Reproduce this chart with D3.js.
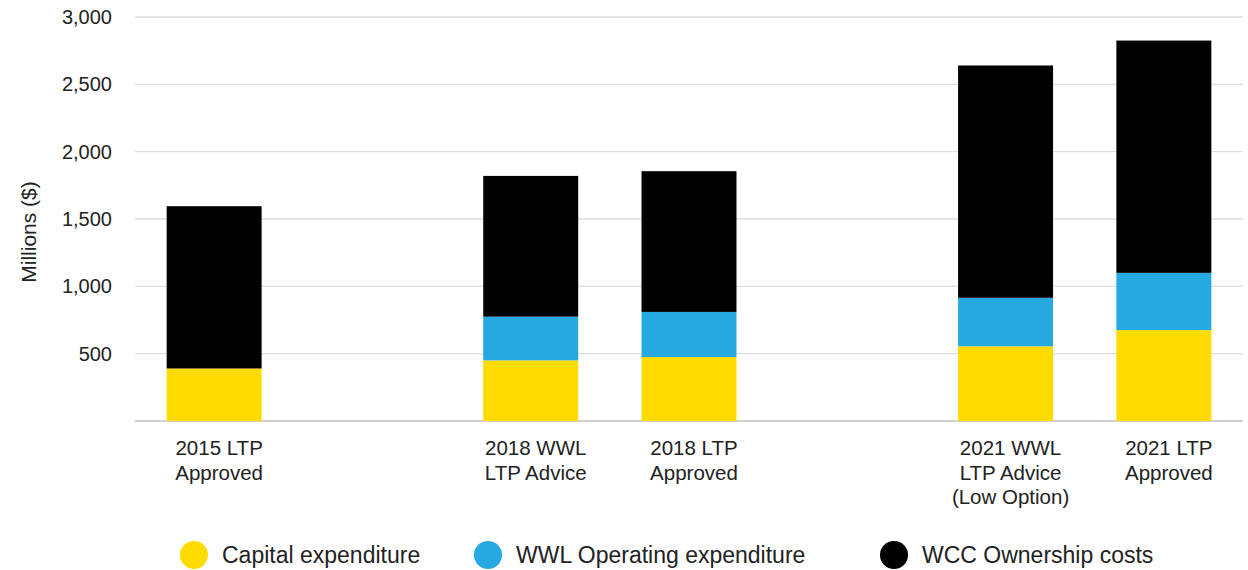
<!DOCTYPE html>
<html>
<head>
<meta charset="utf-8">
<script src="https://cdn.jsdelivr.net/npm/d3@7"></script>
<style>
  body { margin: 0; background: #fff; }
  svg { display: block; font-family: "Liberation Sans", Arial, sans-serif; }
</style>
</head>
<body>
<svg id="chart" width="1248" height="570"></svg>
<script>
// ---- data ----
const categories = ["2015 LTP Approved", "2018 WWL LTP Advice", "2018 LTP Approved", "2021 WWL LTP Advice (Low Option)", "2021 LTP Approved"];
const categoryLines = [["2015 LTP", "Approved"], ["2018 WWL", "LTP Advice"], ["2018 LTP", "Approved"], ["2021 WWL", "LTP Advice", "(Low Option)"], ["2021 LTP", "Approved"]];
const groupOf = [0, 1, 1, 2, 2];
const seriesNames = ["Capital expenditure", "WWL Operating expenditure", "WCC Ownership costs"];
const capex = [390, 450, 475, 555, 675];
const wwlOpex = [0, 325, 335, 360, 425];
const wccOwnership = [1205, 1045, 1045, 1725, 1725];
const yTicks = [500, 1000, 1500, 2000, 2500, 3000];
const colors = ["#FFDB00", "#25A9E0", "#000000"];

(function () {
// ---- layout ----
const svg = d3.select("#chart");
const mLeft = 135, mRight = 1243, mTop = 17, mBottom = 421;

// insert blank slots between groups
const slots = [];
categories.forEach((c, i) => {
  if (i > 0 && groupOf[i] !== groupOf[i - 1]) slots.push("__gap" + i);
  slots.push(c);
});

const x = d3.scaleBand().domain(slots).range([mLeft, mRight]).paddingInner(0.4).paddingOuter(0.2);
const y = d3.scaleLinear().domain([0, 3000]).range([mBottom, mTop]);

// gridlines
svg.append("g").selectAll("line").data([0].concat(yTicks)).join("line")
  .attr("x1", mLeft).attr("x2", mRight)
  .attr("y1", d => y(d)).attr("y2", d => y(d))
  .attr("stroke", d => d === 0 ? "#d0d0d0" : "#dedede").attr("stroke-width", d => d === 0 ? 2 : 1.3);

// y axis labels
const yAxis = d3.axisLeft(y).tickValues(yTicks).tickFormat(d3.format(",")).tickSize(0).tickPadding(0);
const ya = svg.append("g").attr("transform", `translate(${mLeft - 23},0)`).call(yAxis);
ya.select(".domain").remove();
ya.selectAll("text").attr("font-size", 20).attr("fill", "#222").attr("font-family", "Liberation Sans, Arial, sans-serif");

// y title
svg.append("text").attr("transform", `translate(36,232) rotate(-90)`)
  .attr("text-anchor", "middle").attr("font-size", 21).attr("fill", "#222").text("Millions ($)");

// stacked bars
const rows = categories.map((c, i) => ({ cat: c, capex: capex[i], opex: wwlOpex[i], wcc: wccOwnership[i] }));
const stacked = d3.stack().keys(["capex", "opex", "wcc"])(rows);
svg.append("g").selectAll("g").data(stacked).join("g")
  .attr("fill", (d, i) => colors[i])
  .selectAll("rect").data(d => d.filter(s => s[1] - s[0] > 0)).join("rect")
  .attr("x", d => x(d.data.cat))
  .attr("width", x.bandwidth())
  .attr("y", d => y(d[1]))
  .attr("height", d => y(d[0]) - y(d[1]));

// category labels
const xl = svg.append("g");
categories.forEach((c, i) => {
  const cx = x(c) + x.bandwidth() / 2 + 5;
  const t = xl.append("text").attr("text-anchor", "middle").attr("font-size", 20.5).attr("fill", "#222")
    .attr("x", cx).attr("y", 455);
  categoryLines[i].forEach((line, j) => {
    t.append("tspan").attr("x", cx).attr("dy", j === 0 ? 0 : 24.5).text(line);
  });
});

// legend
const legendX = [194, 488, 894];
const lg = svg.append("g");
seriesNames.forEach((n, i) => {
  lg.append("circle").attr("cx", legendX[i]).attr("cy", 555).attr("r", 14).attr("fill", colors[i]);
  lg.append("text").attr("x", legendX[i] + 28).attr("y", 563).attr("font-size", 23).attr("fill", "#222").text(n);
});
})();
</script>
</body>
</html>
